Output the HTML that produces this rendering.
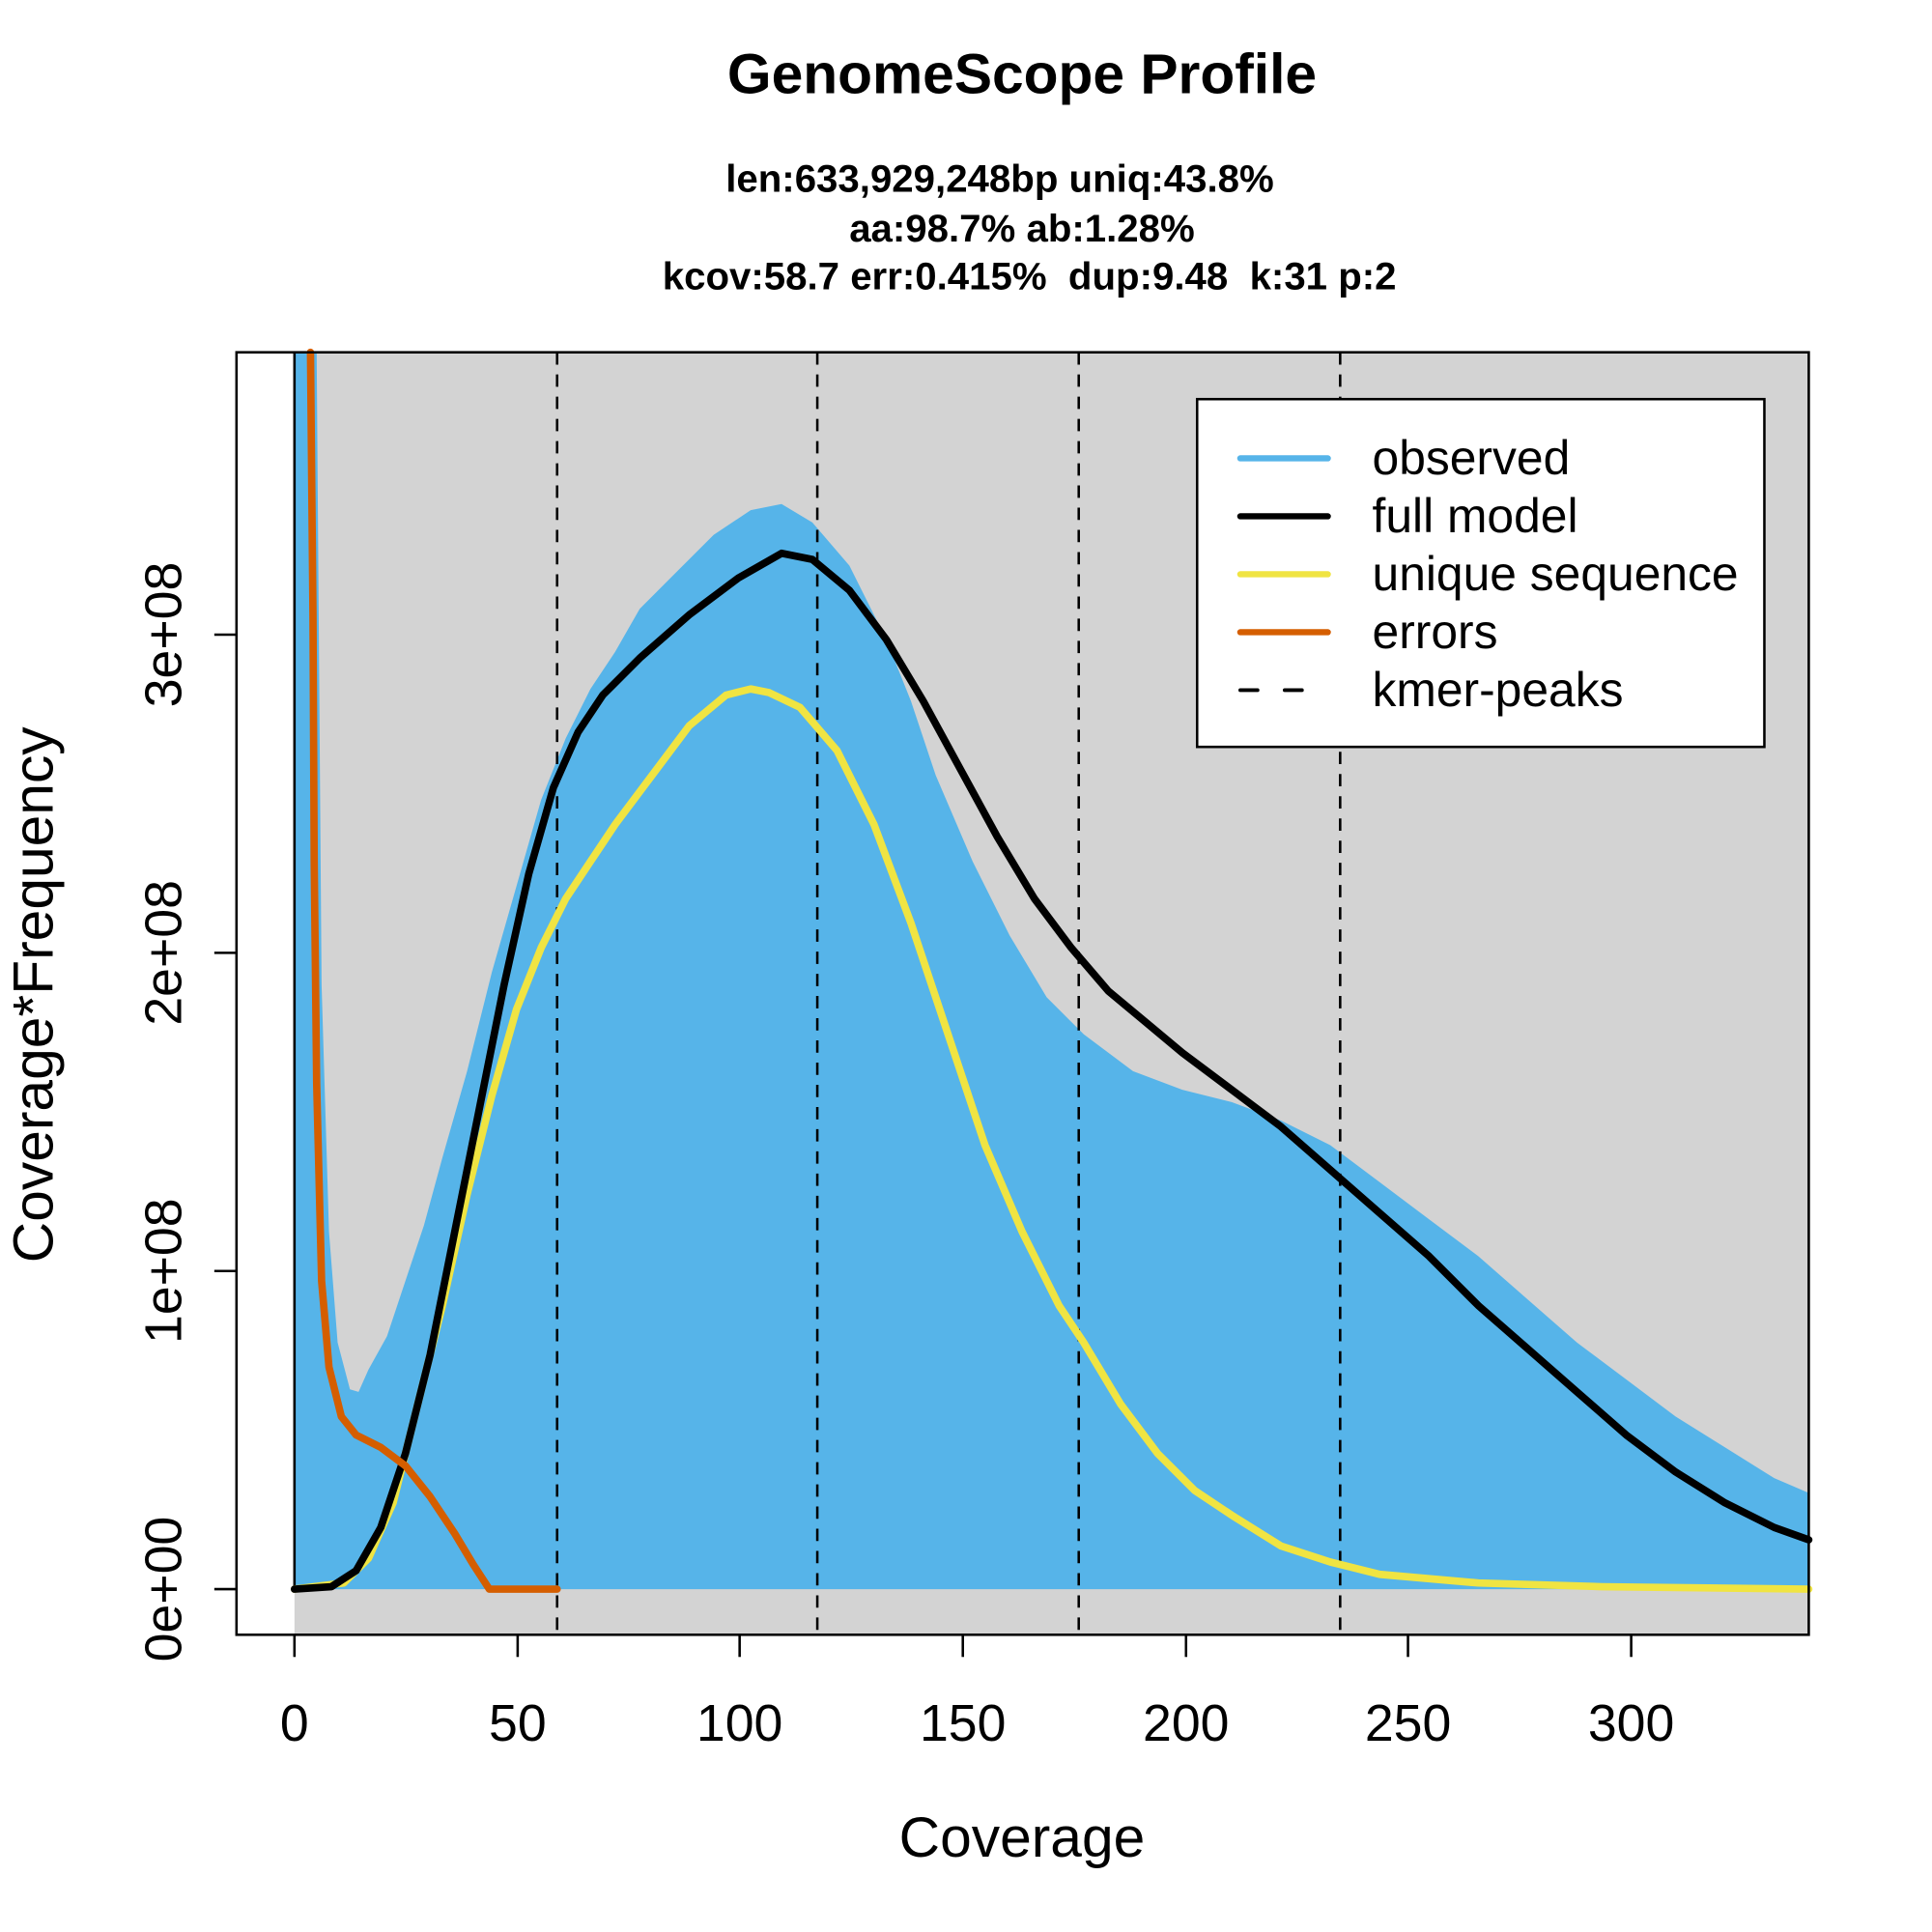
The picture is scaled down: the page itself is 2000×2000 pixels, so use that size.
<!DOCTYPE html>
<html><head><style>html,body{margin:0;padding:0;background:#fff}svg{display:block}</style></head>
<body>
<svg width="2000" height="2000" viewBox="0 0 1552 1552" xmlns="http://www.w3.org/2000/svg" font-family="Liberation Sans, Arial, sans-serif">
<rect x="0" y="0" width="1552" height="1552" fill="#fff"/>
<g transform="translate(-1.2,-1.3) scale(0.9906)">
<rect x="240" y="287" width="1228" height="1040" fill="#d3d3d3"/>
<polygon fill="#56b4e9" points="240,1290 240,287 258,287 262,800 268,1000 275,1090 285,1128 292,1130 300,1112 315,1085 330,1040 345,995 360,940 380,870 400,790 420,720 440,650 460,600 480,560 500,530 520,495 550,465 580,435 610,415 635,410 660,425 690,460 720,520 740,570 760,630 790,700 820,760 850,810 880,840 920,870 960,885 1000,895 1040,910 1080,930 1120,960 1160,990 1200,1020 1240,1055 1280,1090 1320,1120 1360,1150 1400,1175 1440,1200 1468,1212 1468,1290"/>
<line x1="240" y1="287" x2="240" y2="1290" stroke="#000" stroke-width="2"/>
<g stroke="#000" stroke-width="2" stroke-dasharray="10,8">
<line x1="453" y1="287" x2="453" y2="1327"/>
<line x1="664" y1="287" x2="664" y2="1327"/>
<line x1="876" y1="287" x2="876" y2="1327"/>
<line x1="1088" y1="287" x2="1088" y2="1327"/>
</g>
<g fill="none" stroke-width="6" stroke-linejoin="round" stroke-linecap="round">
<polyline stroke="#f0e442" points="240,1290 280,1285 300,1265 320,1220 340,1140 360,1060 380,970 400,890 420,820 440,770 460,730 480,700 500,670 530,630 560,590 590,565 610,560 625,563 650,575 680,610 710,670 740,750 770,840 800,930 830,1000 860,1060 880,1090 910,1140 940,1180 970,1210 1000,1230 1040,1255 1080,1268 1120,1278 1200,1285 1300,1288 1468,1290"/>
<polyline stroke="#000" points="240,1290 270,1288 290,1275 310,1240 330,1180 350,1100 370,1000 390,900 410,800 430,710 450,640 470,595 490,565 520,535 560,500 600,470 635,450 660,455 690,480 720,520 750,570 780,625 810,680 840,730 870,770 900,805 930,830 960,855 1000,885 1040,915 1080,950 1120,985 1160,1020 1200,1060 1240,1095 1280,1130 1320,1165 1360,1195 1400,1220 1440,1240 1468,1250"/>
<polyline stroke="#d55e00" points="253,287 255,500 256,700 258,880 262,1040 268,1110 278,1150 290,1165 310,1175 330,1190 350,1215 370,1245 385,1270 398,1290 453,1290"/>
</g>
<rect x="193" y="287" width="1275" height="1040" fill="none" stroke="#000" stroke-width="2"/>
<rect x="972" y="325" width="460" height="282" fill="#fff" stroke="#000" stroke-width="2"/>
<g stroke-width="5" stroke-linecap="round">
<line x1="1007" y1="373" x2="1078" y2="373" stroke="#56b4e9"/>
<line x1="1007" y1="420" x2="1078" y2="420" stroke="#000"/>
<line x1="1007" y1="467" x2="1078" y2="467" stroke="#f0e442"/>
<line x1="1007" y1="514" x2="1078" y2="514" stroke="#d55e00"/>
<line x1="1007" y1="561" x2="1078" y2="561" stroke="#000" stroke-dasharray="14,22" stroke-width="3"/>
</g>
<g font-size="39" fill="#000">
<text x="1114" y="386">observed</text>
<text x="1114" y="433">full model</text>
<text x="1114" y="480">unique sequence</text>
<text x="1114" y="527">errors</text>
<text x="1114" y="574">kmer-peaks</text>
</g>
<text x="830" y="77" font-size="46" font-weight="bold" text-anchor="middle">GenomeScope Profile</text>
<g font-size="31.5" font-weight="bold" text-anchor="middle">
<text x="812" y="157">len:633,929,248bp uniq:43.8%</text>
<text x="830" y="197">aa:98.7% ab:1.28%</text>
<text x="836" y="236" xml:space="preserve">kcov:58.7 err:0.415%  dup:9.48  k:31 p:2</text>
</g>
<g stroke="#000" stroke-width="2">
<line x1="240" y1="1327" x2="240" y2="1345"/><line x1="421" y1="1327" x2="421" y2="1345"/>
<line x1="601" y1="1327" x2="601" y2="1345"/><line x1="782" y1="1327" x2="782" y2="1345"/>
<line x1="963" y1="1327" x2="963" y2="1345"/><line x1="1143" y1="1327" x2="1143" y2="1345"/>
<line x1="1324" y1="1327" x2="1324" y2="1345"/>
<line x1="175" y1="1290" x2="193" y2="1290"/><line x1="175" y1="1032" x2="193" y2="1032"/>
<line x1="175" y1="774" x2="193" y2="774"/><line x1="175" y1="516" x2="193" y2="516"/>
</g>
<g font-size="42" text-anchor="middle">
<text x="240" y="1413">0</text><text x="421" y="1413">50</text><text x="601" y="1413">100</text>
<text x="782" y="1413">150</text><text x="963" y="1413">200</text><text x="1143" y="1413">250</text>
<text x="1324" y="1413">300</text>
<text transform="translate(148,1290) rotate(-90)">0e+00</text>
<text transform="translate(148,1032) rotate(-90)">1e+08</text>
<text transform="translate(148,774) rotate(-90)">2e+08</text>
<text transform="translate(148,516) rotate(-90)">3e+08</text>
</g>
<g font-size="46" text-anchor="middle">
<text x="830" y="1507">Coverage</text>
<text transform="translate(44,808) rotate(-90)">Coverage*Frequency</text>
</g>
</g>
</svg>
</body></html>
